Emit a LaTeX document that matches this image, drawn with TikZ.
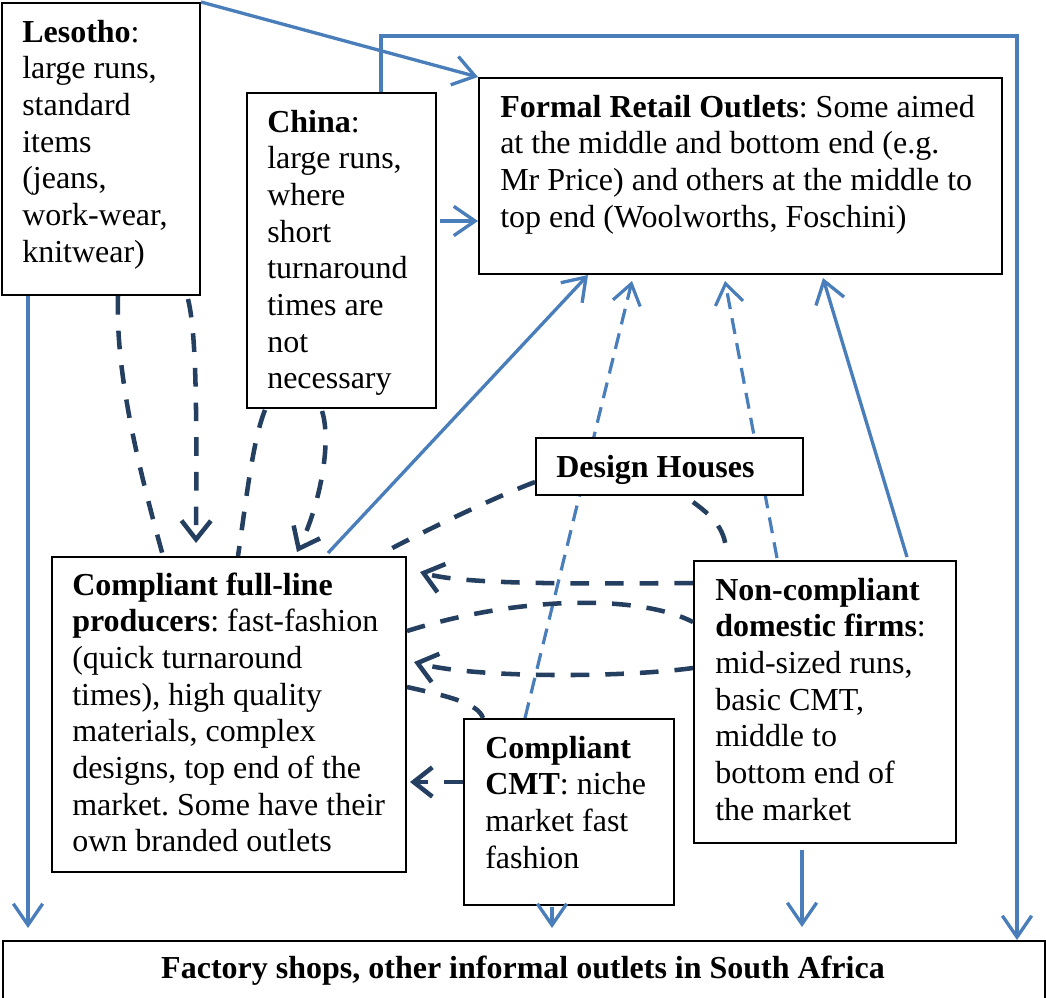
\documentclass[tikz,border=0pt]{standalone}
\usepackage{fontspec}
\setmainfont{Liberation Serif}
\usetikzlibrary{arrows.meta,calc}
\pgfdeclarelayer{bg}
\pgfsetlayers{bg,main}
\definecolor{lblue}{HTML}{4A7EBB}
\definecolor{navy}{HTML}{243F60}
\frenchspacing
\begin{document}
\begin{tikzpicture}[x=0.75pt,y=-0.75pt,
 box/.style={draw=black,line width=1.5pt,fill=white,rectangle,inner sep=0pt,anchor=north west},
 txt/.style={inner sep=0pt,anchor=north west,align=left,font=\fontsize{24}{27.5}\selectfont\frenchspacing},
 blu/.style={draw=lblue,line width=2.5pt,-{Straight Barb[length=16pt,width=22pt]}},
 bludash/.style={draw=lblue,line width=2.4pt,dash pattern=on 12pt off 7pt,-{Straight Barb[length=15pt,width=21pt]}},
 nav/.style={draw=navy,line width=3.4pt,dash pattern=on 14pt off 12pt},
 navarr/.style={nav,-{Straight Barb[length=14pt,width=22pt]}},
]
\useasboundingbox (0,0) rectangle (1046,997);

% boxes
\node[box,minimum width=148.5pt,minimum height=219pt] (les) at (1,2) {};
\node[box,minimum width=141.75pt,minimum height=236.25pt] (chi) at (246,92) {};
\node[box,minimum width=392.25pt,minimum height=147pt] (fro) at (478,77) {};
\node[box,minimum width=200.25pt,minimum height=42.75pt] (des) at (535,437) {};
\node[box,minimum width=265.5pt,minimum height=236.25pt] (cfl) at (51,556) {};
\node[box,minimum width=157.5pt,minimum height=139.5pt] (cmt) at (463,718) {};
\node[box,minimum width=196.5pt,minimum height=211.5pt] (ncd) at (693,560) {};
\node[box,minimum width=781.5pt,minimum height=52.5pt] (fac) at (2,940) {};

% texts
\node[txt] (lesT) at (22,15.3) {\rule{0pt}{20pt}\textbf{Lesotho}:\\large runs,\\standard\\items\\(jeans,\\work-wear,\\knitwear)};
\node[txt] (chiT) at (267,105.3) {\rule{0pt}{20pt}\textbf{China}:\\large runs,\\where\\short\\turnaround\\times are\\not\\necessary};
\node[txt] (froT) at (500,90.3) {\rule{0pt}{20pt}\textbf{Formal Retail Outlets}: Some aimed\\at the middle and bottom end (e.g.\\Mr Price) and others at the middle to\\top end (Woolworths, Foschini)};
\node[txt] (desT) at (556,450.3) {\rule{0pt}{20pt}\textbf{Design Houses}};
\node[txt] (cflT) at (72,568.3) {\rule{0pt}{20pt}\textbf{Compliant full-line}\\\textbf{producers}: fast-fashion\\(quick turnaround\\times), high quality\\materials, complex\\designs, top end of the\\market. Some have their\\own branded outlets};
\node[txt] (cmtT) at (485,731.3) {\rule{0pt}{20pt}\textbf{Compliant}\\\textbf{CMT}: niche\\market fast\\fashion};
\node[txt] (ncdT) at (715,573.3) {\rule{0pt}{20pt}\textbf{Non-compliant}\\\textbf{domestic firms}:\\mid-sized runs,\\basic CMT,\\middle to\\bottom end of\\the market};
\node[txt,anchor=base] (facT) at (523,978) {\textbf{Factory shops, other informal outlets in South Africa}};

% blue dashed (behind boxes)
\begin{pgfonlayer}{bg}
\draw[bludash] ($(cmt.north west)+(62,0)$) -- ($(fro.south west)+(154,6)$);
\draw[bludash] ($(ncd.north west)+(84,-2)$) -- ($(fro.south west)+(247,6)$);
\end{pgfonlayer}

% blue solid
\draw[blu] (les.north east) -- (fro.north west);
\draw[blu] ($(chi.north west)+(135,0)$) -- ++(0,-56) -| ($(fac.north west)+(1015,0)$);
\draw[blu] ($(chi.north east)+(3,129)$) -- ($(fro.north west)+(0,144)$);
\draw[blu] ($(les.south west)+(27,0)$) -- ($(fac.north west)+(26,-12)$);
\draw[blu] ($(cfl.north west)+(277,-3)$) -- ($(fro.south west)+(110,0)$);
\draw[blu] ($(ncd.north west)+(214,-3)$) -- ($(fro.south west)+(345,3)$);
\draw[blu] ($(cmt.south west)+(89,1)$) -- ($(fac.north west)+(550,-12)$);
\draw[blu] ($(ncd.south west)+(109,6)$) -- ($(fac.north west)+(800,-13)$);

% navy dashed
\draw[nav] ($(les.south west)+(117,0)$) .. controls +(-3,86) and +(-18,-66) .. ($(cfl.north west)+(112,0)$);
\draw[navarr] ($(les.south west)+(187,3)$) .. controls +(8,33) and +(1,-143) .. ($(cfl.north west)+(145,-13)$);
\draw[nav] ($(chi.south west)+(19,1)$) .. controls +(-13,32) and +(7,-46) .. ($(cfl.north west)+(187,0)$);
\draw[navarr] ($(chi.south west)+(76,2)$) .. controls +(10,31) and +(23,-47) .. ($(cfl.north west)+(246,-4)$);
\draw[nav] ($(des.south west)+(0,-14)$) .. controls +(-40,15) and +(37,-20) .. ($(cfl.north west)+(332,-3)$);
\draw[nav] ($(des.south west)+(158,6)$) .. controls +(19,14) and +(2,-28) .. ($(ncd.north west)+(33,-2)$);
\draw[navarr] ($(ncd.north west)+(0,23)$) .. controls +(-133,1) and +(42,12) .. ($(cfl.north east)+(13,16)$);
\draw[nav] ($(cfl.north east)+(0,75)$) .. controls +(115,-36) and +(-53,-27) .. ($(ncd.north west)+(0,62)$);
\draw[navarr] ($(ncd.north west)+(0,108)$) .. controls +(-73,10) and +(58,16) .. ($(cfl.north east)+(7,106)$);
\draw[nav] ($(cfl.north east)+(0,131)$) .. controls +(40,9) and +(-5,-15) .. ($(cmt.north west)+(20,0)$);
\draw[navarr] ($(cmt.north west)+(0,64)$) -- ($(cfl.north east)+(3,226)$);
\end{tikzpicture}
\end{document}
